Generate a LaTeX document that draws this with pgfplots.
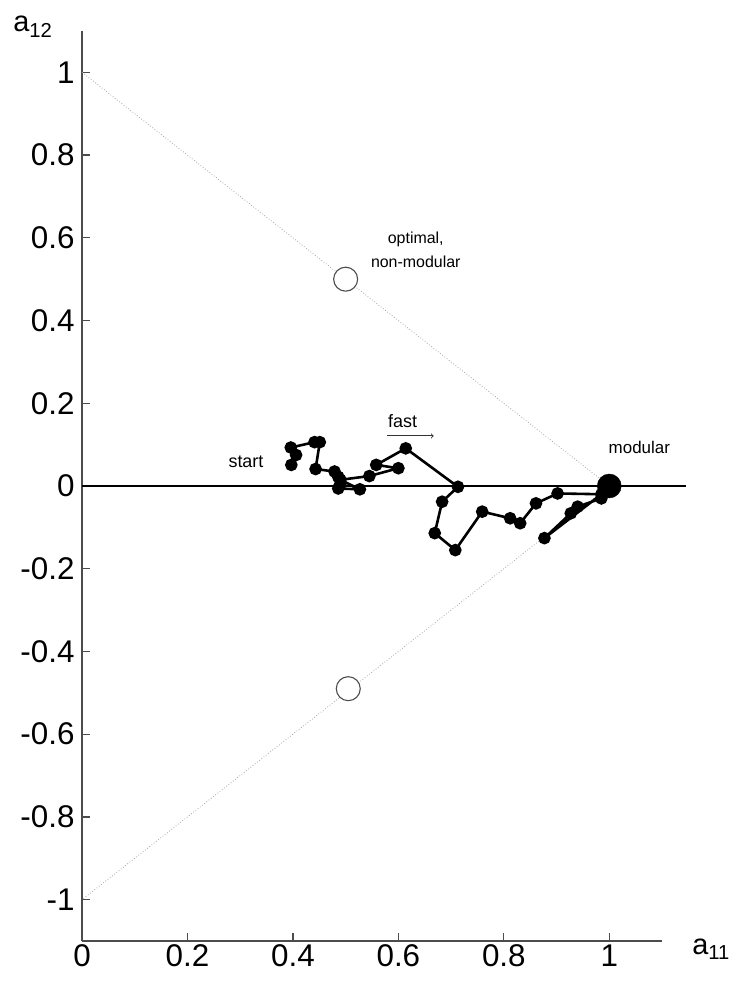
\documentclass[border=0pt]{standalone}
\usepackage{fontspec}
\setmainfont{Liberation Sans}
\usepackage{pgfplots}
\pgfplotsset{compat=1.18}
\usetikzlibrary{calc}
\begin{document}
\begin{tikzpicture}
\begin{axis}[name=ax,
  scale only axis, width=580bp, height=910bp,
  xmin=0, xmax=1.1, ymin=-1.1, ymax=1.1,
  axis lines*=left,
  axis line style={line width=1.4bp, black!70},
  tick align=inside, major tick length=8bp,
  tick style={line width=1.2bp, black!70},
  xtick={0,0.2,0.4,0.6,0.8,1},
  xticklabels={0,0.2,0.4,0.6,0.8,1},
  ytick={-1,-0.8,-0.6,-0.4,-0.2,0,0.2,0.4,0.6,0.8,1},
  yticklabels={-1,-0.8,-0.6,-0.4,-0.2,0,0.2,0.4,0.6,0.8,1},
  ticklabel style={font=\fontsize{31.5}{34}\selectfont},
  yticklabel style={xshift=-4bp},
  xticklabel style={yshift=0bp},
  clip=false,
]
\addplot[gray!70, dotted, line width=0.8bp] coordinates {(0,1) (1,0) (0,-1)};
\addplot[black, line width=1.4bp] coordinates {(0,0) (1.145,0)};
\addplot[only marks, mark=*, mark size=12bp, mark options={fill=white, draw=black!70, line width=1.1bp}] coordinates {(0.5,0.5) (0.505,-0.49)};
\addplot[black, line width=2.6bp, mark=*, mark size=5bp] coordinates {
(0.397,0.051) (0.406,0.075) (0.396,0.093) (0.441,0.106) (0.451,0.106)
(0.443,0.041) (0.479,0.035) (0.486,0.022) (0.49,0.005) (0.486,-0.006)
(0.527,-0.008) (0.49,0.015) (0.545,0.024) (0.60,0.043) (0.558,0.051)
(0.614,0.091) (0.713,-0.002) (0.683,-0.038) (0.669,-0.114) (0.708,-0.155)
(0.759,-0.062) (0.812,-0.078) (0.831,-0.090) (0.861,-0.042) (0.902,-0.018)
(0.985,-0.02) (0.877,-0.126) (0.927,-0.066) (0.94,-0.05) (0.985,-0.03)
(0.995,-0.01) (1.0,0.0)};
\addplot[only marks, mark=*, mark size=12bp, black] coordinates {(1.0,0.0)};
\node[font=\fontsize{18}{20}\selectfont] at (axis cs:0.311,0.058) {start};
\node[font=\fontsize{18}{20}\selectfont] at (axis cs:0.608,0.157) {fast};
\draw[->, line width=0.9bp, black!80] (axis cs:0.578,0.121) -- (axis cs:0.667,0.121);
\node[font=\fontsize{17}{20}\selectfont] at (axis cs:1.057,0.094) {modular};
\node[font=\fontsize{16}{24}\selectfont, align=center] at (axis cs:0.633,0.57) {optimal,\\non-modular};
\node[font=\fontsize{29}{32}\selectfont] at (axis cs:-0.093,1.11) {a\textsubscript{12}};
\node[font=\fontsize{29}{32}\selectfont] at (axis cs:1.193,-1.12) {a\textsubscript{11}};
\end{axis}
\pgfresetboundingbox
\path[use as bounding box] ($(ax.south west)+(-82bp,-45bp)$) rectangle ($(ax.north east)+(74bp,31bp)$);
\end{tikzpicture}
\end{document}
